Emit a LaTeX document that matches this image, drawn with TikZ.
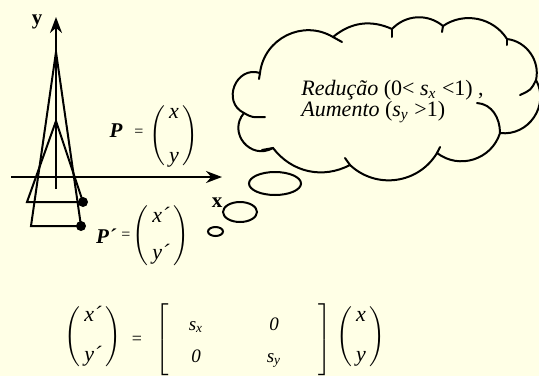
\documentclass[tikz,border=0pt]{standalone}
\usepackage{fontspec}
\setmainfont{Liberation Serif}
\usetikzlibrary{arrows.meta,matrix,shapes.geometric}
\definecolor{slidebg}{RGB}{255,255,230}
\tikzset{
  axis/.style={line width=1pt, -{Stealth[length=8pt,width=6pt]}},
  figline/.style={line width=1pt, line join=miter},
  cloudline/.style={line width=1pt, line cap=round},
  vertex/.style={circle, fill=black, inner sep=0pt, minimum size=5pt},
  axislabel/.style={font=\bfseries\fontsize{10.5}{12}\selectfont, anchor=base, inner sep=0pt},
  ptlabel/.style={font=\bfseries\itshape\fontsize{10.5}{12}\selectfont, anchor=base, inner sep=0pt},
  eqsign/.style={font=\fontsize{8}{10}\selectfont, inner sep=0pt},
  colvec/.style={matrix of nodes, left delimiter=(, right delimiter=), inner sep=0pt, row sep=#1,
    nodes={font=\itshape\fontsize{11}{13}\selectfont, text height=7pt, text depth=2.5pt, inner sep=0.5pt}},
  bubble/.style={draw, ellipse, line width=1pt, inner sep=0pt},
}
\begin{document}
\begin{tikzpicture}[x=0.5pt, y=-0.5pt]
  % slide background
  \fill[slidebg] (0,0) rectangle (539,376);
  \useasboundingbox (0,0) rectangle (539,376);

  % axes
  \coordinate (xstart) at (11,177);
  \coordinate (xend) at (222,177);
  \coordinate (ystart) at (56,189);
  \coordinate (yend) at (56,17);
  \draw[axis] (xstart) -- (xend);
  \draw[axis] (ystart) -- (yend);
  \node[axislabel] (ylab) at (37,24) {y};
  \node[axislabel] (xlab) at (217,207) {x};

  % original triangle
  \coordinate (ptop) at (56,121);
  \coordinate (pleft) at (27,202);
  \node[vertex] (p) at (83,202) {};
  \draw[figline] (ptop) -- (pleft) -- (p.center) -- cycle;

  % scaled triangle
  \coordinate (qtop) at (56,52);
  \coordinate (qleft) at (31,226);
  \node[vertex] (q) at (81,226) {};
  \draw[figline] (qtop) -- (qleft) -- (q.center) -- cycle;

  % point vectors
  \node[ptlabel] (plab) at (116,137) {P};
  \node[eqsign] (peq) at (139,133) {=};
  \matrix[colvec=11.5pt] (pvec) at (174,136) {x \\ y \\};

  \node[ptlabel] (qlab) at (106,243) {P´};
  \node[eqsign] (qeq) at (126,236) {=};
  \matrix[colvec=8pt] (qvec) at (161,236.5) {x´ \\ y´ \\};

  % thought cloud
  \draw[cloudline] (244,113) to[bend left=86, looseness=1.5] (260,73)
    to[bend left=57, looseness=1.1] (333,37)
    to[bend left=32] (392,29)
    to[bend left=43] (443,26)
    to[bend left=46] (507,39)
    to[bend left=48] (536,80)
    to[bend left=63, looseness=1.15] (500,133)
    to[bend left=55, looseness=1.08] (437,153)
    to[bend left=51, looseness=1.05] (350,165)
    to[bend left=40] (273,148)
    to[bend left=80, looseness=1.45] (244,113);
  \draw[cloudline] (244,113) .. controls (252,117.5) .. (265,117);
  \draw[cloudline] (536,80) .. controls (531,90) .. (520,95);
  \draw[cloudline] (477,103) .. controls (492,104) and (500,118) .. (500,133);
  \foreach \xa/\ya/\xb/\yb in {260/73/259/79, 333/37/342/42, 392/29/392/37, 443/26/442/32,
      507/39/507/45, 437/153/440/147, 350/165/345/158, 273/148/262/150}
    \draw[cloudline] (\xa,\ya) -- (\xb,\yb);
  \node[anchor=north west, inner sep=0pt, align=left,
    font=\fontsize{11}{10.5}\selectfont] (ratio) at (301,80)
    {\textit{Redução} (0< \textit{s}\textsubscript{\textit{x}} <1) ,\\
     \textit{Aumento} (\textit{s}\textsubscript{\textit{y}} >1)};
  \node[bubble, minimum width=26pt, minimum height=11.5pt] (b1) at (275,183.5) {};
  \node[bubble, minimum width=17pt, minimum height=10pt] (b2) at (240,212) {};
  \node[bubble, minimum width=7.5pt, minimum height=4.5pt] (b3) at (215.5,231.5) {};

  % scaling equation
  \matrix[colvec=9.5pt] (newvec) at (93,337) {x´ \\ y´ \\};
  \node[eqsign, font=\fontsize{9}{11}\selectfont] (eq) at (137,340) {=};
  \matrix[matrix of nodes, left delimiter={[}, right delimiter={]}, inner xsep=1pt, inner ysep=4pt,
    row sep=7pt, column sep=8pt,
    nodes={font=\itshape\fontsize{9.5}{11}\selectfont, text height=6pt, text depth=2pt, inner sep=0.5pt},
    column 1/.style={nodes={minimum width=22pt}},
    column 2/.style={nodes={minimum width=40pt}}] (smat) at (244,342)
    {s\textsubscript{x} & 0 \\ 0 & s\textsubscript{y} \\};
  \matrix[colvec=9.5pt] (oldvec) at (361,337) {x \\ y \\};
\end{tikzpicture}
\end{document}
